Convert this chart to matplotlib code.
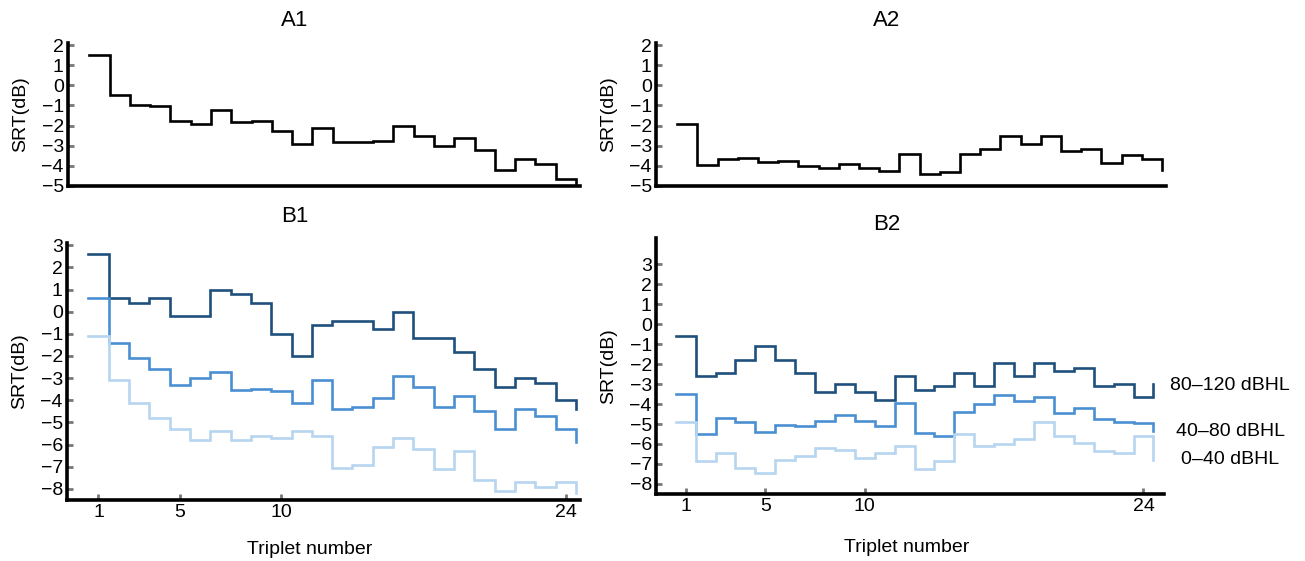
import numpy as np
import matplotlib.pyplot as plt

plt.rcParams['font.family'] = ['Liberation Sans', 'DejaVu Sans']

triplets = np.arange(1, 25)

# A: SRT per triplet (all listeners)
a1_srt = [1.5, -0.5, -1.0, -1.05, -1.75, -1.9, -1.25, -1.8, -1.75, -2.25, -2.9, -2.1,
          -2.8, -2.8, -2.75, -2.0, -2.5, -3.0, -2.6, -3.2, -4.2, -3.65, -3.9, -4.65]
a2_srt = [-1.9, -3.95, -3.65, -3.6, -3.8, -3.75, -4.0, -4.1, -3.9, -4.1, -4.25, -3.4,
          -4.4, -4.3, -3.4, -3.15, -2.5, -2.9, -2.5, -3.25, -3.15, -3.85, -3.45, -3.65]
a1_tail = -5.0
a2_tail = -4.2

# B: SRT per triplet split by hearing level group
groups = ['80–120 dBHL', '40–80 dBHL', '0–40 dBHL']
b1_srt = [
    [2.6, 0.6, 0.4, 0.6, -0.2, -0.2, 1.0, 0.8, 0.4, -1.0, -2.0, -0.6,
     -0.4, -0.4, -0.8, 0.0, -1.2, -1.2, -1.8, -2.6, -3.4, -3.0, -3.2, -4.0],
    [0.6, -1.4, -2.1, -2.6, -3.3, -3.0, -2.7, -3.55, -3.5, -3.6, -4.1, -3.1,
     -4.4, -4.3, -3.9, -2.9, -3.4, -4.3, -3.8, -4.5, -5.3, -4.4, -4.7, -5.3],
    [-1.1, -3.1, -4.1, -4.8, -5.3, -5.8, -5.4, -5.8, -5.6, -5.7, -5.4, -5.6,
     -7.05, -6.9, -6.1, -5.7, -6.2, -7.1, -6.3, -7.6, -8.1, -7.7, -7.9, -7.7],
]
b1_tail = [-4.4, -5.9, -8.2]
b2_srt = [
    [-0.6, -2.6, -2.45, -1.8, -1.1, -1.8, -2.45, -3.4, -3.0, -3.4, -3.8, -2.6,
     -3.3, -3.1, -2.45, -3.1, -1.95, -2.6, -1.95, -2.35, -2.2, -3.1, -3.0, -3.65],
    [-3.5, -5.5, -4.7, -4.9, -5.4, -5.05, -5.1, -4.85, -4.55, -4.85, -5.1, -3.95,
     -5.45, -5.6, -4.4, -4.0, -3.55, -3.85, -3.65, -4.45, -4.2, -4.75, -4.9, -4.95],
    [-4.9, -6.85, -6.45, -7.2, -7.45, -6.8, -6.6, -6.2, -6.3, -6.7, -6.45, -6.1,
     -7.25, -6.85, -5.5, -6.1, -6.0, -5.75, -4.9, -5.6, -5.95, -6.35, -6.45, -5.6],
]
b2_tail = [-3.0, -5.35, -6.8]
colors = ['#1f4f7c', '#4a8fd2', '#b6d5f0']

W, H = 1305, 561


def draw_steps(ax, vals, tail, color):
    edges = np.append(triplets - 0.5, triplets[-1] + 0.5)
    ax.step(edges, np.append(vals, tail), where='post', color=color, lw=1.9,
            solid_joinstyle='miter')


def style(ax, xlim, ylim, yticks, xticks):
    for s in ['top', 'right']:
        ax.spines[s].set_visible(False)
    for s in ['left', 'bottom']:
        ax.spines[s].set_linewidth(2.6)
    ax.set_xlim(*xlim)
    ax.set_ylim(*ylim)
    ax.set_yticks(yticks)
    ax.set_xticks(xticks)
    ax.tick_params(direction='in', length=4, width=2, color='#777777',
                   labelsize=14, pad=3)
    ax.set_ylabel('SRT(dB)', fontsize=14, labelpad=9)


def box(x0, x1, y0, y1):
    return [x0 / W, 1 - y1 / H, (x1 - x0) / W, (y1 - y0) / H]


fig = plt.figure(figsize=(13.05, 5.61), dpi=100)

ax_a1 = fig.add_axes(box(68, 580, 43, 186))
ax_a2 = fig.add_axes(box(656, 1166, 43, 186))
ax_b1 = fig.add_axes(box(67, 580, 243, 500))
ax_b2 = fig.add_axes(box(656, 1164, 238, 494))

draw_steps(ax_a1, a1_srt, a1_tail, 'black')
draw_steps(ax_a2, a2_srt, a2_tail, 'black')
for vals, tail, c in zip(b1_srt, b1_tail, colors):
    draw_steps(ax_b1, vals, tail, c)
for vals, tail, c in zip(b2_srt, b2_tail, colors):
    draw_steps(ax_b2, vals, tail, c)

style(ax_a1, (-0.55, 24.7), (-5, 2.1), range(-5, 3), [])
style(ax_a2, (-0.55, 24.7), (-5, 2.1), range(-5, 3), [])
style(ax_b1, (-0.55, 24.7), (-8.5, 3.1), range(-8, 4), [1, 5, 10, 24])
style(ax_b2, (-0.49, 25.03), (-8.5, 4.3), range(-8, 4), [1, 5, 10, 24])

ax_b1.set_xlabel('Triplet number', fontsize=14)
ax_b1.xaxis.set_label_coords(0.474, -0.16)
ax_b2.set_xlabel('Triplet number', fontsize=14)
ax_b2.xaxis.set_label_coords(0.494, -0.175)

fig.text(295 / W, 1 - 21 / H, 'A1', fontsize=16, ha='center', va='center')
fig.text(887 / W, 1 - 21 / H, 'A2', fontsize=16, ha='center', va='center')
fig.text(295 / W, 1 - 216 / H, 'B1', fontsize=16, ha='center', va='center')
fig.text(887 / W, 1 - 224 / H, 'B2', fontsize=16, ha='center', va='center')

label_y = [385, 431, 460]
for g, y in zip(groups, label_y):
    fig.text(1230 / W, 1 - y / H, g, fontsize=14, ha='center', va='center')

fig.savefig('out.png', dpi=100)
